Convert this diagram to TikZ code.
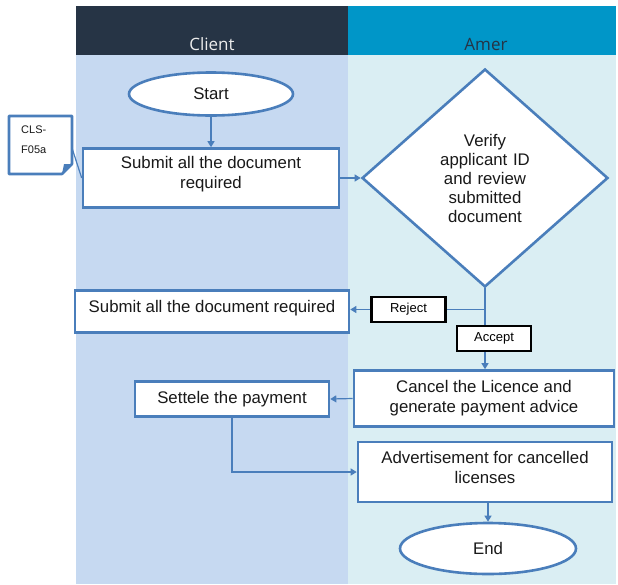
\documentclass[tikz,border=0pt]{standalone}
\usepackage{fontspec}
\setmainfont{Liberation Sans}
\newfontfamily\headfont{Open Sans}
\usetikzlibrary{shapes.geometric,arrows.meta}
\definecolor{navy}{RGB}{38,52,69}
\definecolor{hblue}{RGB}{0,150,200}
\definecolor{clientbg}{RGB}{198,217,241}
\definecolor{amerbg}{RGB}{218,238,243}
\definecolor{bord}{RGB}{74,126,187}
\definecolor{txt}{RGB}{25,25,25}
\tikzset{
  procbox/.style={draw=bord, line width=2.6pt, fill=white, align=center, inner sep=0pt, text=txt, font=\fontsize{16.8}{20}\selectfont},
  term/.style={ellipse, draw=bord, line width=2.6pt, fill=white, inner sep=0pt, text=txt, font=\fontsize{16.8}{20}\selectfont},
  lbl/.style={draw=black, line width=2.2pt, fill=white, inner sep=0pt, minimum width=74pt, minimum height=25pt, font=\fontsize{13}{15}\selectfont},
  conn/.style={draw=bord, line width=1.2pt},
  arr/.style={conn, -{Triangle[width=7pt,length=6pt]}},
}
\begin{document}
\begin{tikzpicture}[x=1pt,y=-1pt]
\useasboundingbox (0,0) rectangle (618,584);
% lanes
\fill[clientbg] (76,55) rectangle (348,584);
\fill[amerbg] (348,55) rectangle (616,584);
\fill[navy] (76,6) rectangle (348,55);
\fill[hblue] (348,6) rectangle (616,55);
\node[text=white!85!gray, font=\headfont\fontsize{17}{20}\selectfont] (hclient) at (212,44) {Client};
\node[text=navy, font=\headfont\fontsize{17}{20}\selectfont] (hamer) at (486,44) {Amer};
% nodes
\node[term, minimum width=164pt, minimum height=43pt] (start) at (211,94) {Start};
\node[procbox, minimum width=256pt, minimum height=59pt, text depth=12pt] (submit1) at (211,178) {Submit all the document\\required};
\node[diamond, draw=bord, line width=2.6pt, fill=white, minimum width=246pt, minimum height=218pt, inner sep=0pt, text width=110pt, align=center, text=txt, font=\fontsize{16.8}{19}\selectfont] (verify) at (485,178) {Verify\\applicant ID\\and review\\submitted\\document};
\node[procbox, minimum width=274pt, minimum height=42pt, text depth=10pt] (submit2) at (212,311.5) {Submit all the document required};
\node[procbox, minimum width=260pt, minimum height=56pt] (cancel) at (484,398.5) {Cancel the Licence and\\generate payment advice};
\node[procbox, minimum width=194pt, minimum height=35pt] (settle) at (232,399) {Settele the payment};
\node[procbox, minimum width=254pt, minimum height=60pt, text depth=10pt] (adv) at (485,472) {Advertisement for cancelled\\licenses};
\node[term, minimum width=176pt, minimum height=51pt] (end) at (488,548.5) {End};
\node[lbl] (reject) at (408.5,309.5) {Reject};
\node[lbl] (accept) at (494,338.5) {Accept};
% note
\draw[bord, line width=2.6pt, fill=white, line join=round] (9,116) -- (72,116) -- (72,164) -- (62,174) -- (9,174) -- cycle;
\fill[bord] (72,164) -- (62,174) -- (64,164) -- cycle;
\node[anchor=north west, align=left, inner sep=0pt, font=\fontsize{11}{20}\selectfont, text=txt] (note) at (21,126) {CLS-\\F05a};
\coordinate (noteR) at (72,148);
% connectors
\draw[arr] (start) -- (submit1);
\draw[conn] (noteR) -- (submit1.west);
\draw[arr] (submit1.east |- verify.west) -- (verify.west);
\draw[conn] (verify.south) -- (verify.south |- accept.north);
\draw[arr] (verify.south |- accept.south) -- (verify.south |- cancel.north);
\draw[conn] (verify.south |- reject.east) -- (reject.east);
\draw[arr] (reject.west) -- (submit2.east |- reject.west);
\draw[arr] (cancel.west) -- (settle.east);
\draw[arr] (settle.south) |- (adv.west);
\draw[arr] (adv.south -| end.north) -- (end.north);
\end{tikzpicture}
\end{document}
